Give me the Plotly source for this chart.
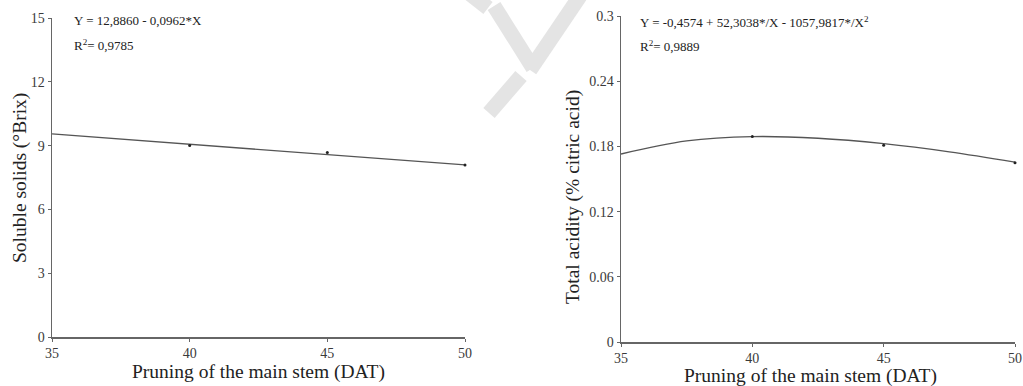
import plotly.graph_objects as go

W, H = 1023, 386

# ---------------- data ----------------
# Soluble solids: fitted line (read at ends) and observed means
ss_fit_x = [35, 50]
ss_fit_y = [9.55, 8.09]
ss_obs_x = [40, 45, 50]
ss_obs_y = [9.0, 8.68, 8.09]

ta_fit_x = [35, 37.5, 40, 42.5, 45, 47.5, 50]
ta_fit_y = [0.173, 0.185, 0.189, 0.1875, 0.1825, 0.175, 0.1655]
ta_obs_x = [40, 45, 50]
ta_obs_y = [0.189, 0.181, 0.165]

x_ticks = [35, 40, 45, 50]
ss_ticks = [0, 3, 6, 9, 12, 15]
ta_ticks = [0, 0.06, 0.12, 0.18, 0.24, 0.3]
ta_ticktext = ["0", "0.06", "0.12", "0.18", "0.24", "0.3"]

FONT = "Liberation Serif"
TXT = "#222"
AX = "#666"
LINE = "#555"


def px(x):
    return x / W


def py(y):
    return 1 - y / H


fig = go.Figure()

fig.add_trace(go.Scatter(x=ss_fit_x, y=ss_fit_y, mode="lines",
                         line=dict(color=LINE, width=1.3),
                         xaxis="x", yaxis="y", showlegend=False, hoverinfo="skip"))
fig.add_trace(go.Scatter(x=ss_obs_x, y=ss_obs_y, mode="markers",
                         marker=dict(color="#222", size=3),
                         xaxis="x", yaxis="y", showlegend=False, cliponaxis=False))
fig.add_trace(go.Scatter(x=ta_fit_x, y=ta_fit_y, mode="lines",
                         line=dict(color=LINE, width=1.3, shape="spline"),
                         xaxis="x2", yaxis="y2", showlegend=False, hoverinfo="skip"))
fig.add_trace(go.Scatter(x=ta_obs_x, y=ta_obs_y, mode="markers",
                         marker=dict(color="#222", size=3),
                         xaxis="x2", yaxis="y2", showlegend=False, cliponaxis=False))

tickfont = dict(family=FONT, size=14, color="#3a3a3a")
axcommon = dict(showgrid=False, zeroline=False, showline=True, linecolor=AX,
                linewidth=1.5, ticks="outside", ticklen=3, tickcolor=AX,
                tickfont=tickfont, fixedrange=True, automargin=False)

fig.update_layout(
    width=W, height=H,
    margin=dict(l=0, r=0, t=0, b=0, autoexpand=False),
    paper_bgcolor="white", plot_bgcolor="white",
    xaxis=dict(domain=[px(52), px(465)], range=[35, 50], tickvals=x_ticks,
               anchor="y", ticklabelstandoff=0, **axcommon),
    yaxis=dict(domain=[py(337), py(18)], range=[0, 15], tickvals=ss_ticks,
               anchor="x", **axcommon),
    xaxis2=dict(domain=[px(621), px(1015)], range=[35, 50], tickvals=x_ticks,
                anchor="y2", ticklabelstandoff=0, **axcommon),
    yaxis2=dict(domain=[py(342), py(16)], range=[0, 0.3], tickvals=ta_ticks,
                ticktext=ta_ticktext, anchor="x2", **axcommon),
)

ann_font = dict(family=FONT, size=13, color=TXT)
title_font = dict(family=FONT, size=19.5, color=TXT)
annotations = [
    dict(x=px(72), y=py(21), text="Y = 12,8860 - 0,0962*X", font=ann_font,
         xanchor="left", yanchor="middle"),
    dict(x=px(72), y=py(45), text="R<sup>2</sup>= 0,9785", font=ann_font,
         xanchor="left", yanchor="middle"),
    dict(x=px(638), y=py(22), text="Y = -0,4574 + 52,3038*/X - 1057,9817*/X<sup>2</sup>",
         font=ann_font, xanchor="left", yanchor="middle"),
    dict(x=px(638), y=py(46), text="R<sup>2</sup>= 0,9889", font=ann_font,
         xanchor="left", yanchor="middle"),
    dict(x=px(258), y=py(372), text="Pruning of the main stem (DAT)", font=title_font,
         xanchor="center", yanchor="middle"),
    dict(x=px(810), y=py(376), text="Pruning of the main stem (DAT)", font=title_font,
         xanchor="center", yanchor="middle"),
    dict(x=px(20), y=py(178), text="Soluble solids (°Brix)", font=title_font,
         textangle=-90, xanchor="center", yanchor="middle"),
    dict(x=px(573), y=py(197), text="Total acidity (% citric acid)", font=title_font,
         textangle=-90, xanchor="center", yanchor="middle"),
]
for a in annotations:
    a.update(xref="paper", yref="paper", showarrow=False)
fig.update_layout(annotations=annotations)

# faint watermark strokes (decorative)
wm = "#e4e4e4"
segs = [((470, -6), (488, 8)), ((494, 6), (533, 68)), ((580, -4), (530, 70)),
        ((521, 76), (489, 113))]
shapes = []
for (x0, y0), (x1, y1) in segs:
    shapes.append(dict(type="line", xref="paper", yref="paper",
                       x0=px(x0), y0=py(y0), x1=px(x1), y1=py(y1),
                       line=dict(color=wm, width=15), layer="below"))
fig.update_layout(shapes=shapes)

fig.write_html("out.html", config={"displayModeBar": False, "staticPlot": True},
               post_script="document.body.style.margin='0';document.body.style.overflow='hidden';")
